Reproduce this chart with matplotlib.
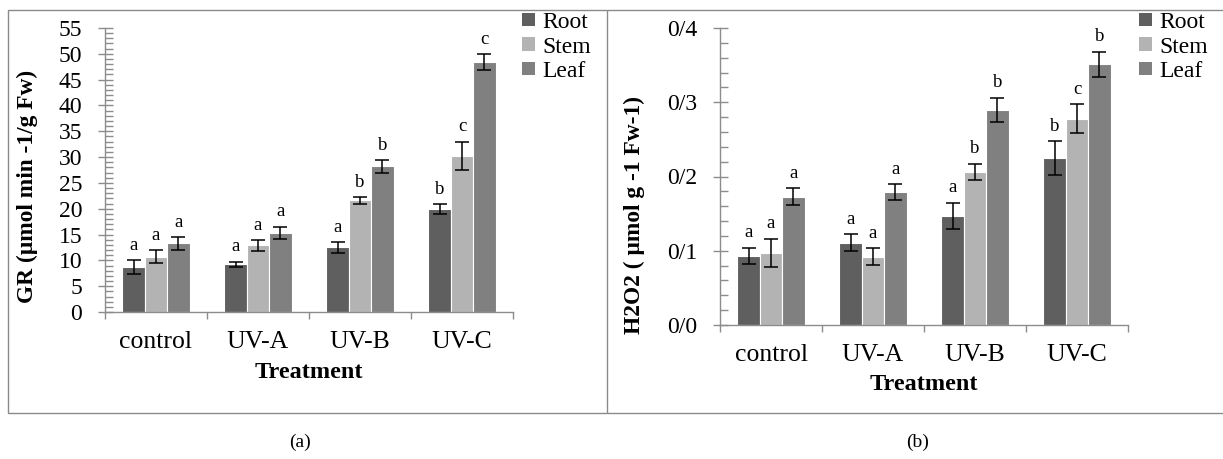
import matplotlib
matplotlib.use("Agg")
import matplotlib.pyplot as plt
import numpy as np
from matplotlib.ticker import MultipleLocator, FixedLocator, FuncFormatter
from matplotlib.patches import Rectangle
from matplotlib.lines import Line2D

plt.rcParams['font.family'] = ['Liberation Serif', 'DejaVu Serif']

# ---------------- data ----------------
treatments = ["control", "UV-A", "UV-B", "UV-C"]
organs = ["Root", "Stem", "Leaf"]

gr_root = [8.7, 9.2, 12.5, 19.9]
gr_stem = [10.7, 12.9, 21.6, 30.2]
gr_leaf = [13.3, 15.3, 28.2, 48.4]
gr_root_err = [1.3, 0.55, 1.05, 1.0]
gr_stem_err = [1.25, 1.0, 0.6, 2.75]
gr_leaf_err = [1.2, 1.25, 1.25, 1.55]
gr_root_letters = ["a", "a", "a", "b"]
gr_stem_letters = ["a", "a", "b", "c"]
gr_leaf_letters = ["a", "a", "b", "c"]

h2o2_root = [0.093, 0.111, 0.147, 0.225]
h2o2_stem = [0.097, 0.092, 0.206, 0.278]
h2o2_leaf = [0.173, 0.179, 0.290, 0.351]
h2o2_root_err = [0.011, 0.011, 0.0175, 0.0225]
h2o2_stem_err = [0.019, 0.0115, 0.011, 0.019]
h2o2_leaf_err = [0.011, 0.011, 0.016, 0.017]
h2o2_root_letters = ["a", "a", "a", "b"]
h2o2_stem_letters = ["a", "a", "b", "c"]
h2o2_leaf_letters = ["a", "a", "b", "b"]

gr_ticks = [0, 5, 10, 15, 20, 25, 30, 35, 40, 45, 50, 55]
h2o2_ticks = [0.0, 0.1, 0.2, 0.3, 0.4]
h2o2_ticklabels = ["0/0", "0/1", "0/2", "0/3", "0/4"]

colors = ["#5f5f5f", "#b3b3b3", "#808080"]
axis_gray = "#8c8c8c"

W, H = 1223, 459
fig = plt.figure(figsize=(W / 100, H / 100), dpi=100)


def fx(px):
    return px / W


def fy(py):
    return 1 - py / H


def draw_panel(ax, series, errs, letters, ylim_top, major, minor, ticks,
               ticklabels, ylabel, ylabel_xy, legend_xy):
    x = np.arange(len(treatments))
    bw = 0.219
    offsets = [-bw, 0, bw]
    handles = []
    for vals, err, let, off, c, name in zip(series, errs, letters, offsets,
                                             colors, organs):
        b = ax.bar(x + off, vals, bw, color=c, edgecolor="white",
                   linewidth=0.8, label=name, zorder=2)
        handles.append(b)
        ax.errorbar(x + off, vals, yerr=err, fmt="none", ecolor="black",
                    elinewidth=1.1, capsize=5, capthick=1.1, zorder=3)
        for xi, v, e, l in zip(x + off, vals, err, let):
            ax.annotate(l, (xi, v + e), xytext=(0, 7.5),
                        textcoords="offset points", ha="center",
                        va="baseline", fontsize=13.5)
    ax.set_xlim(-0.5, len(treatments) - 0.5)
    ax.set_ylim(0, ylim_top)
    for s in ["top", "right"]:
        ax.spines[s].set_visible(False)
    for s in ["left", "bottom"]:
        ax.spines[s].set_color(axis_gray)
        ax.spines[s].set_linewidth(1.0)
    ax.yaxis.set_major_locator(FixedLocator(ticks))
    ax.set_yticklabels(ticklabels)
    ax.yaxis.set_minor_locator(MultipleLocator(minor))
    ax.tick_params(axis="y", which="major", direction="inout", length=10.8,
                   width=1.0, color=axis_gray, labelsize=17, pad=11)
    ax.tick_params(axis="y", which="minor", direction="in", length=5.8,
                   width=1.0, color=axis_gray)
    # category boundaries as major x ticks, names on minor ticks
    ax.xaxis.set_major_locator(FixedLocator(np.arange(-0.5, len(treatments), 1.0)))
    ax.xaxis.set_major_formatter(FuncFormatter(lambda v, p: ""))
    ax.xaxis.set_minor_locator(FixedLocator(x))
    ax.set_xticklabels(treatments, minor=True)
    ax.tick_params(axis="x", which="major", direction="out", length=5,
                   width=1.0, color=axis_gray)
    ax.tick_params(axis="x", which="minor", length=0, labelsize=18.5, pad=14)
    fig.text(fx(ylabel_xy[0]), fy(ylabel_xy[1]), ylabel, rotation=90,
             ha="center", va="center", fontsize=16.8, fontweight="bold")
    leg = ax.legend(handles=handles, labels=organs, loc="upper left",
                    bbox_to_anchor=(fx(legend_xy[0]), fy(legend_xy[1])),
                    bbox_transform=fig.transFigure, frameon=False,
                    fontsize=17, borderpad=0, borderaxespad=0,
                    handlelength=0.55, handleheight=0.5, handletextpad=0.3,
                    labelspacing=0.15)
    for p in leg.get_patches():
        p.set_edgecolor("none")


ax1 = fig.add_axes([fx(105), fy(312), fx(513) - fx(105), (312 - 28) / H])
draw_panel(ax1, [gr_root, gr_stem, gr_leaf],
           [gr_root_err, gr_stem_err, gr_leaf_err],
           [gr_root_letters, gr_stem_letters, gr_leaf_letters],
           55, 5, 1, gr_ticks, [str(t) for t in gr_ticks],
           "GR (µmol min -1/g Fw)", (27, 186), (522, 12))
fig.text(fx(309), fy(373), "Treatment", ha="center", va="center",
         fontsize=17.5, fontweight="bold")

ax2 = fig.add_axes([fx(720), fy(325), fx(1128) - fx(720), (325 - 28) / H])
draw_panel(ax2, [h2o2_root, h2o2_stem, h2o2_leaf],
           [h2o2_root_err, h2o2_stem_err, h2o2_leaf_err],
           [h2o2_root_letters, h2o2_stem_letters, h2o2_leaf_letters],
           0.4, 0.1, 0.02, h2o2_ticks, h2o2_ticklabels,
           "H2O2 ( µmol g -1 Fw-1)", (634, 215), (1139, 12))
fig.text(fx(924), fy(385), "Treatment", ha="center", va="center",
         fontsize=17.5, fontweight="bold")

# panel frames
border = "#8a8a8a"
fig.add_artist(Rectangle((fx(8), fy(413)), fx(607) - fx(8), (413 - 10) / H,
                         transform=fig.transFigure, fill=False, ec=border,
                         lw=1.0))
for (x0, y0, x1, y1) in [(608, 10, 1223, 10), (608, 413, 1223, 413)]:
    fig.add_artist(Line2D([fx(x0), fx(x1)], [fy(y0), fy(y1)],
                          transform=fig.transFigure, color=border, lw=1.0))

fig.text(fx(300), fy(442), "(a)", ha="center", va="center", fontsize=14)
fig.text(fx(918), fy(442), "(b)", ha="center", va="center", fontsize=14)

fig.savefig("out.png", dpi=100, facecolor="white")
